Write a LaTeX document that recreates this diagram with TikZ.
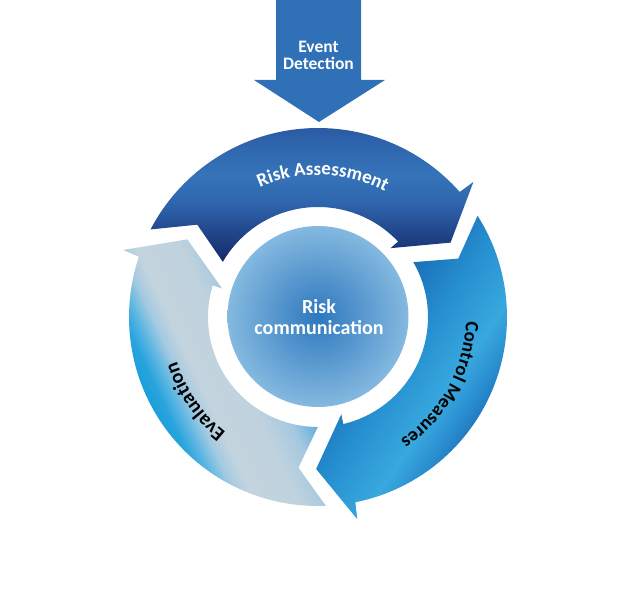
\documentclass[tikz,border=0pt]{standalone}
\usepackage{fontspec}
\setmainfont{Carlito}
\usetikzlibrary{decorations.text}
% colours
\definecolor{evd}{HTML}{3070B6}
\definecolor{ci0}{HTML}{2E78BE}
\definecolor{ci1}{HTML}{84B9E0}
\definecolor{ra0}{HTML}{2A5AA3}
\definecolor{ra1}{HTML}{3068B0}
\definecolor{ra2}{HTML}{3573B9}
\definecolor{ra3}{HTML}{3068B0}
\definecolor{ra4}{HTML}{22488D}
\definecolor{ra5}{HTML}{122862}
\definecolor{cm0}{HTML}{1A70B9}
\definecolor{cm1}{HTML}{2690D0}
\definecolor{cm2}{HTML}{38A8DE}
\definecolor{cm3}{HTML}{2A8ED0}
\definecolor{cm4}{HTML}{1667B2}
\definecolor{ev0}{HTML}{1A9FDC}
\definecolor{ev1}{HTML}{28A4DD}
\definecolor{ev2}{HTML}{5AB5E2}
\definecolor{ev3}{HTML}{A4CAE1}
\definecolor{ev4}{HTML}{C4D4DE}
\definecolor{ev5}{HTML}{BFD2DE}
\definecolor{ev6}{HTML}{A6C8E0}
\definecolor{ev7}{HTML}{5AAEDE}
% shadings
\pgfdeclareradialshading{circsh}{\pgfpoint{0bp}{0bp}}{color(0bp)=(ci0); color(25bp)=(ci1); color(50bp)=(ci1)}
\pgfdeclareverticalshading{rash}{100bp}{color(0bp)=(ra5); color(25bp)=(ra5); color(37.7bp)=(ra4); color(48.6bp)=(ra3); color(57.6bp)=(ra2); color(66.7bp)=(ra1); color(75bp)=(ra0); color(100bp)=(ra0)}
\pgfdeclarehorizontalshading{cmsh}{100bp}{color(0bp)=(cm0); color(55.6bp)=(cm0); color(61.3bp)=(cm1); color(66.9bp)=(cm2); color(69.8bp)=(cm3); color(73.2bp)=(cm4); color(100bp)=(cm4)}
\pgfdeclarehorizontalshading{evsh}{100bp}{color(0bp)=(ev0); color(28.5bp)=(ev0); color(29.9bp)=(ev1); color(31.25bp)=(ev2); color(32.95bp)=(ev3); color(34.66bp)=(ev4); color(39.2bp)=(ev5); color(42.05bp)=(ev6); color(44.8bp)=(ev7); color(100bp)=(ev7)}
% arrow outlines (polar, centre of ring at origin)
\newcommand\PathRA{(152.4:189) arc[start angle=152.4,end angle=41.4,radius=189] -- (41:206) -- (29.3:152) -- (43.5:100) -- (43.3:110) arc[start angle=43.3,end angle=149.9,radius=110] -- (142.6:152) -- cycle}
\newcommand\PathCM{(32.4:189) arc[start angle=32.4,end angle=-78.6,radius=189] -- (-79:206) -- (-90.7:152) -- (-76.5:100) -- (-76.7:110) arc[start angle=-76.7,end angle=29.9,radius=110] -- (22.6:152) -- cycle}
\newcommand\PathEV{(-87.6:189) arc[start angle=-87.6,end angle=-198.6,radius=189] -- (-199:206) -- (-210.7:152) -- (-196.5:100) -- (-196.7:110) arc[start angle=-196.7,end angle=-90.1,radius=110] -- (-97.4:152) -- cycle}
\newcommand\RAfont{\fontsize{19}{19}\selectfont\bfseries\color{white}}
\newcommand\CMfont{\fontsize{19}{19}\selectfont\bfseries\color{black}}
\newcommand\EVfont{\fontsize{20}{20}\selectfont\bfseries\color{black}}
\tikzset{
  labeltext/.style={text=white,align=center,font=\bfseries},
  ringshift/.style={shift={(318,278)}},
}
\begin{document}
\begin{tikzpicture}[x=1pt,y=1pt]
\useasboundingbox (0,0) rectangle (625,595);
\fill[white] (0,0) rectangle (625,595);
% Event Detection block arrow
\fill[evd] (276,595) -- (361,595) -- (361,515) -- (385,515) -- (319,473) -- (254,515) -- (276,515) -- cycle;
\node[labeltext,font=\fontsize{17.5}{17}\selectfont\bfseries] (ed) at (318.5,540) {Event\\Detection};
% central circle
\shade[shading=circsh] (318,278.5) circle (90.5);
\node[labeltext,font=\fontsize{20}{20.5}\selectfont\bfseries] (rc) at (319,278) {Risk\\communication};
% Risk Assessment arrow
\begin{scope}
  \clip[ringshift] \PathRA;
  \shade[shading=rash] (98,330) rectangle (538,468);
\end{scope}
% Control Measures arrow
\begin{scope}
  \clip[ringshift] \PathCM;
  \begin{scope}[transform canvas={rotate around={-34:(318,278)}}]
    \shade[shading=cmsh] (98,28) rectangle (538,528);
  \end{scope}
\end{scope}
% Evaluation arrow
\begin{scope}
  \clip[ringshift] \PathEV;
  \begin{scope}[transform canvas={rotate around={25:(318,278)}}]
    \shade[shading=evsh] (98,28) rectangle (538,528);
  \end{scope}
\end{scope}
% curved labels
\begin{scope}[ringshift]
  \path[decorate,decoration={text along path,text={|\RAfont|Risk Assessment},text align=center}]
    (128:142) arc[start angle=128,end angle=48,radius=142];
  \path[decorate,decoration={text along path,text={|\CMfont|Control Measures},text align=center}]
    (11:148) arc[start angle=11,end angle=-69,radius=148];
  \path[decorate,decoration={text along path,text={|\EVfont|Evaluation},text align=center}]
    (254.5:148) arc[start angle=254.5,end angle=174.5,radius=148];
\end{scope}
\end{tikzpicture}
\end{document}
